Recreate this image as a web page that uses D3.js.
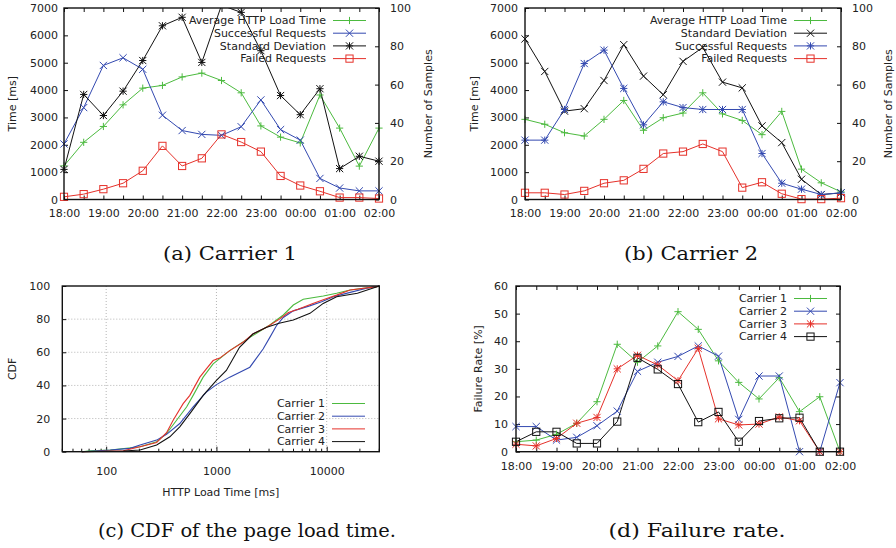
<!DOCTYPE html>
<html>
<head>
<meta charset="utf-8">
<script src="https://cdn.jsdelivr.net/npm/d3@7"></script>
<style>
body { margin: 0; background: #fff; }
text { font-family: "DejaVu Sans", Verdana, sans-serif; font-size: 11px; fill: #222; }
text.cap { font-family: "DejaVu Serif", serif; font-size: 19px; fill: #111; }
</style>
</head>
<body>
<script>
// half-hour sample slots
var times = ["18:00","18:30","19:00","19:30","20:00","20:30","21:00","21:30","22:00",
             "22:30","23:00","23:30","00:00","00:30","01:00","01:30","02:00"];

// (a) Carrier 1 : times in ms, counts in samples
var c1AvgTime = [1230,2090,2670,3460,4070,4170,4480,4620,4350,3900,2690,2280,2070,3820,2610,1220,2610];
var c1StdDev  = [1100,3840,3070,3960,5080,6350,6660,5010,7100,6840,5440,3800,3100,4050,1130,1580,1400];
var c1Success = [29,48,70,74,68,44,36,34,33.5,38,52,36.5,31,11,6,4.5,4.5];
var c1Failed  = [1.4,2.8,5.4,8.5,15,28,17.5,21.5,34,30,25,12.3,7.3,4.3,1,1,0.5];

// (b) Carrier 2
var c2AvgTime = [2930,2750,2440,2320,2930,3620,2530,2990,3160,3900,3130,2890,2370,3220,1110,610,280];
var c2StdDev  = [5870,4680,3230,3320,4350,5660,4510,3830,5050,5560,4290,4080,2690,2080,740,180,240];
var c2Success = [31,31,47,71,78,58,39,51,48,47,47,47,24,8.5,5.4,2.6,3.5];
var c2Failed  = [3.5,3.5,2.6,4.5,8.5,10,16,24,25,29,25,6.2,9,3,0.2,0.2,0.7];

// (c) CDF of load time, [ms, %]
var cdfC1 = [[60,0],[72,0.5],[109,1],[203,3],[287,6],[353,11],[435,19],[536,27],[615,34],[758,45],[933,53],
             [1320,61],[2010,69],[3050,76.5],[4040,82.5],[4980,88.5],[6130,92],[9320,94],[12300,95.6],
             [16300,97.6],[28500,99.6],[30000,100]];
var cdfC2 = [[60,0],[109,1],[165,2],[203,4],[287,7],[353,10.5],[465,17],[615,27],[810,36],[1000,40.5],
             [1320,45],[2010,51],[2650,62],[3050,69],[3500,76],[4040,81],[4980,85],[7000,88],[9000,90.5],
             [11500,93.5],[16000,96],[23000,98.6],[30000,100]];
var cdfC3 = [[60,0],[143,0.6],[203,3],[287,5.6],[353,11.5],[405,19],[499,29],[574,34],[707,45],[810,50],
             [933,55],[1070,56.5],[1320,61],[1740,66],[2140,71],[2820,75],[3730,80],[4500,84],[5500,86],
             [7500,89.5],[10000,92.5],[12300,94.5],[16300,97.6],[28500,99.6],[30000,100]];
var cdfC4 = [[60,0],[143,0.4],[203,1],[287,4],[378,9],[465,15],[574,23],[758,34],[1000,43],[1230,49],
             [1620,63],[2140,71],[2820,75],[3700,77.5],[4980,79.5],[7050,83.5],[9300,89.5],[12300,93.5],
             [19000,95.6],[30000,100]];

// (d) failure rate in %
var frC1 = [3.6,4.2,6.3,10.3,18.1,38.9,32.4,38.3,50.7,44.3,32.9,25.1,19.1,26.8,14.5,19.9,0];
var frC2 = [9.1,9.1,4.2,5.2,9.4,14.7,29.1,32.4,34.5,38.3,34.6,11.7,27.4,27.4,0,0,25];
var frC3 = [2.7,2.1,4.8,10.3,12.4,30,34.9,31.4,25.7,37.4,11.9,9.7,10,12.6,11.2,0,0];
var frC4 = [3.6,7.2,7.2,3,3,10.9,34,29.8,24.5,10.7,14.4,3.6,11.1,12.1,12.3,0,0];

var GREEN = "#4cba3f", BLUE = "#3349b0", RED = "#e5312a", BLACK = "#111";

var svg = d3.select("body").append("svg")
    .attr("width", 896)
    .attr("height", 548);

function marker(g, type, color) {
    var s = 3.6;
    if (type == "square") {
        g.append("rect").attr("x", -s).attr("y", -s).attr("width", 2 * s).attr("height", 2 * s)
            .attr("fill", "none").attr("stroke", color);
        return;
    }
    var d = "";
    if (type == "plus" || type == "star") d += "M" + (-s) + ",0H" + s + "M0," + (-s) + "V" + s;
    if (type == "cross" || type == "star") d += "M" + (-s) + "," + (-s) + "L" + s + "," + s + "M" + (-s) + "," + s + "L" + s + "," + (-s);
    g.append("path").attr("d", d).attr("fill", "none").attr("stroke", color);
}

function legendRow(g, xText, y, label, color, type) {
    g.append("text").attr("x", xText).attr("y", y).attr("dy", "0.35em")
        .attr("text-anchor", "end").text(label);
    g.append("line").attr("x1", xText + 7).attr("x2", xText + 40).attr("y1", y).attr("y2", y)
        .attr("stroke", color);
    if (type) marker(g.append("g").attr("transform", "translate(" + (xText + 23.5) + "," + y + ")"), type, color);
}

function cleanAxis(a) {
    a.select(".domain").remove();
    a.selectAll("line").attr("stroke", "#111");
    a.selectAll("text").style("font-size", "11px").attr("fill", "#222");
}

// time-of-day panel: (a), (b), (d)
function timePanel(id, box, o) {
    var g = svg.append("g");
    var x = d3.scalePoint().domain(times).range([box.x0, box.x1]);
    var y = d3.scaleLinear().domain(o.yDomain).range([box.y1, box.y0]);
    var y2 = d3.scaleLinear().domain([0, 100]).range([box.y1, box.y0]);

    g.append("clipPath").attr("id", id).append("rect")
        .attr("x", box.x0).attr("y", box.y0).attr("width", box.x1 - box.x0).attr("height", box.y1 - box.y0);

    var fmt = function (d) { return d.slice(3) == "00" ? d : ""; };
    g.append("g").attr("transform", "translate(0," + box.y1 + ")")
        .call(d3.axisBottom(x).tickSize(-4).tickPadding(o.xPad).tickFormat(fmt)).call(cleanAxis);
    g.append("g").attr("transform", "translate(0," + box.y0 + ")")
        .call(d3.axisTop(x).tickSize(-4).tickFormat("")).call(cleanAxis);
    g.append("g").attr("transform", "translate(" + box.x0 + ",0)")
        .call(d3.axisLeft(y).tickValues(o.yTicks).tickSize(-4).tickPadding(o.yPad)
            .tickFormat(d3.format("d"))).call(cleanAxis);
    if (o.y2Label) {
        g.append("g").attr("transform", "translate(" + box.x1 + ",0)")
            .call(d3.axisRight(y2).tickValues([0, 20, 40, 60, 80, 100]).tickSize(-4).tickPadding(11)).call(cleanAxis);
        g.append("text")
            .attr("transform", "translate(" + o.y2LabelX + "," + ((box.y0 + box.y1) / 2) + ") rotate(-90)")
            .attr("text-anchor", "middle").attr("dy", "0.35em").text(o.y2Label);
    } else {
        g.append("g").attr("transform", "translate(" + box.x1 + ",0)")
            .call(d3.axisRight(y).tickValues(o.yTicks).tickSize(-4).tickFormat("")).call(cleanAxis);
    }
    g.append("text")
        .attr("transform", "translate(" + o.yLabelX + "," + ((box.y0 + box.y1) / 2) + ") rotate(-90)")
        .attr("text-anchor", "middle").attr("dy", "0.35em").text(o.yLabel);

    var lines = g.append("g").attr("clip-path", "url(#" + id + ")");
    var marks = g.append("g");
    o.series.forEach(function (s) {
        var ys = s.right ? y2 : y;
        var top = ys.domain()[1];
        var line = d3.line()
            .x(function (d, i) { return x(times[i]); })
            .y(function (d) { return ys(d); });
        lines.append("path").datum(s.vals).attr("d", line)
            .attr("fill", "none").attr("stroke", s.color).attr("stroke-width", 1);
        s.vals.forEach(function (v, i) {
            if (v > top) return; // out of range points are not marked
            marker(marks.append("g").attr("transform", "translate(" + x(times[i]) + "," + ys(v) + ")"), s.marker, s.color);
        });
    });

    g.append("rect").attr("x", box.x0).attr("y", box.y0)
        .attr("width", box.x1 - box.x0).attr("height", box.y1 - box.y0)
        .attr("fill", "none").attr("stroke", "#111").attr("stroke-width", 1.4);

    var lg = g.append("g");
    o.legend.forEach(function (l, i) {
        legendRow(lg, o.legendX, o.legendY + i * 12.7, l.label, l.color, l.marker);
    });
}

var timeTicks = [0, 1000, 2000, 3000, 4000, 5000, 6000, 7000];

timePanel("clipA", {x0: 64, x1: 379, y0: 8, y1: 199.5}, {
    yDomain: [0, 7000], yTicks: timeTicks, yPad: 6, xPad: 10,
    yLabel: "Time [ms]", yLabelX: 12, y2Label: "Number of Samples", y2LabelX: 428,
    series: [
        {vals: c1AvgTime, color: GREEN, marker: "plus"},
        {vals: c1Success, color: BLUE, marker: "cross", right: true},
        {vals: c1StdDev, color: BLACK, marker: "star"},
        {vals: c1Failed, color: RED, marker: "square", right: true}
    ],
    legendX: 326, legendY: 20.5,
    legend: [
        {label: "Average HTTP Load Time", color: GREEN, marker: "plus"},
        {label: "Successful Requests", color: BLUE, marker: "cross"},
        {label: "Standard Deviation", color: BLACK, marker: "star"},
        {label: "Failed Requests", color: RED, marker: "square"}
    ]
});

timePanel("clipB", {x0: 525, x1: 841, y0: 8, y1: 199.5}, {
    yDomain: [0, 7000], yTicks: timeTicks, yPad: 7, xPad: 10,
    yLabel: "Time [ms]", yLabelX: 474, y2Label: "Number of Samples", y2LabelX: 888,
    series: [
        {vals: c2AvgTime, color: GREEN, marker: "plus"},
        {vals: c2StdDev, color: BLACK, marker: "cross"},
        {vals: c2Success, color: BLUE, marker: "star", right: true},
        {vals: c2Failed, color: RED, marker: "square", right: true}
    ],
    legendX: 787, legendY: 20.5,
    legend: [
        {label: "Average HTTP Load Time", color: GREEN, marker: "plus"},
        {label: "Standard Deviation", color: BLACK, marker: "cross"},
        {label: "Successful Requests", color: BLUE, marker: "star"},
        {label: "Failed Requests", color: RED, marker: "square"}
    ]
});

timePanel("clipD", {x0: 516, x1: 840, y0: 286, y1: 451.7}, {
    yDomain: [0, 60], yTicks: [0, 10, 20, 30, 40, 50, 60], yPad: 8, xPad: 11,
    yLabel: "Failure Rate [%]", yLabelX: 478,
    series: [
        {vals: frC1, color: GREEN, marker: "plus"},
        {vals: frC2, color: BLUE, marker: "cross"},
        {vals: frC3, color: RED, marker: "star"},
        {vals: frC4, color: BLACK, marker: "square"}
    ],
    legendX: 787, legendY: 298.5,
    legend: [
        {label: "Carrier 1", color: GREEN, marker: "plus"},
        {label: "Carrier 2", color: BLUE, marker: "cross"},
        {label: "Carrier 3", color: RED, marker: "star"},
        {label: "Carrier 4", color: BLACK, marker: "square"}
    ]
});

// (c) CDF panel, log x
(function () {
    var box = {x0: 62.3, x1: 379.3, y0: 286, y1: 451.7};
    var g = svg.append("g");
    var x = d3.scaleLog().domain([40, 30000]).range([box.x0, box.x1]);
    var y = d3.scaleLinear().domain([0, 100]).range([box.y1, box.y0]);

    var grid = g.append("g").attr("stroke", "#b5b5b5").attr("stroke-dasharray", "1,2");
    [20, 40, 60, 80].forEach(function (v) {
        grid.append("line").attr("x1", box.x0).attr("x2", box.x1).attr("y1", y(v)).attr("y2", y(v));
    });
    [100, 1000, 10000].forEach(function (v) {
        grid.append("line").attr("x1", x(v)).attr("x2", x(v)).attr("y1", box.y0).attr("y2", box.y1);
    });

    g.append("g").attr("transform", "translate(0," + box.y1 + ")")
        .call(d3.axisBottom(x).tickValues([100, 1000, 10000]).tickSize(-5).tickPadding(16)
            .tickFormat(d3.format("d"))).call(cleanAxis);
    var minor = x.ticks().filter(function (v) { return [100, 1000, 10000].indexOf(v) < 0; });
    g.append("g").selectAll("line").data(minor).enter().append("line")
        .attr("x1", function (d) { return x(d); }).attr("x2", function (d) { return x(d); })
        .attr("y1", box.y1).attr("y2", box.y1 - 3).attr("stroke", "#111");
    g.append("g").attr("transform", "translate(" + box.x0 + ",0)")
        .call(d3.axisLeft(y).tickValues([0, 20, 40, 60, 80, 100]).tickSize(-4).tickPadding(12)).call(cleanAxis);

    g.append("text").attr("x", (box.x0 + box.x1) / 2).attr("y", 492).attr("dy", "0.35em")
        .attr("text-anchor", "middle").text("HTTP Load Time [ms]");
    g.append("text")
        .attr("transform", "translate(12," + ((box.y0 + box.y1) / 2) + ") rotate(-90)")
        .attr("text-anchor", "middle").attr("dy", "0.35em").text("CDF");

    var line = d3.line()
        .x(function (d) { return x(d[0]); })
        .y(function (d) { return y(d[1]); });
    var curves = [[cdfC1, GREEN], [cdfC2, BLUE], [cdfC3, RED], [cdfC4, BLACK]];
    curves.forEach(function (c) {
        g.append("path").datum(c[0]).attr("d", line)
            .attr("fill", "none").attr("stroke", c[1]).attr("stroke-width", 1.1);
    });

    g.append("rect").attr("x", box.x0).attr("y", box.y0)
        .attr("width", box.x1 - box.x0).attr("height", box.y1 - box.y0)
        .attr("fill", "none").attr("stroke", "#111").attr("stroke-width", 1.4);

    var lg = g.append("g");
    ["Carrier 1", "Carrier 2", "Carrier 3", "Carrier 4"].forEach(function (name, i) {
        legendRow(lg, 325, 403.5 + i * 12.7, name, curves[i][1], null);
    });
})();

// sub-figure captions
var captions = [
    {t: "(a) Carrier 1", x: 230, y: 260, w: 134},
    {t: "(b) Carrier 2", x: 691, y: 260, w: 134},
    {t: "(c) CDF of the page load time.", x: 247, y: 537, w: 298},
    {t: "(d) Failure rate.", x: 697, y: 537, w: 177}
];
svg.selectAll(".cap").data(captions).enter().append("text")
    .attr("class", "cap")
    .attr("x", function (d) { return d.x - d.w / 2; })
    .attr("y", function (d) { return d.y; })
    .attr("textLength", function (d) { return d.w; })
    .attr("lengthAdjust", "spacingAndGlyphs")
    .text(function (d) { return d.t; });
</script>
</body>
</html>
